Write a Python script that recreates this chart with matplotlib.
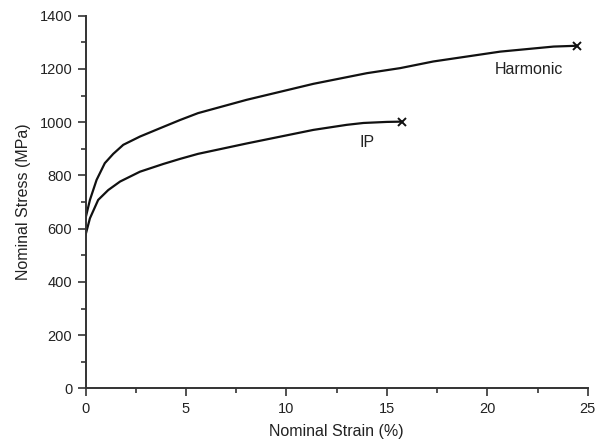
import numpy as np
import matplotlib.pyplot as plt
from matplotlib.ticker import MultipleLocator

plt.rcParams['font.family'] = ['Liberation Sans', 'DejaVu Sans']

# Harmonic curve (strain %, stress MPa)
harm_strain = [0.0, 0.22, 0.55, 0.96, 1.38, 1.88, 2.71, 3.7, 4.7, 5.6, 8.02,
               11.34, 14.0, 15.66, 17.31, 20.64, 23.3, 24.45]
harm_stress = [639, 708, 783, 846, 881, 915, 946, 977, 1008, 1034, 1084,
               1144, 1184, 1203, 1228, 1265, 1284, 1287]

# IP curve
ip_strain = [0.0, 0.22, 0.63, 1.13, 1.72, 2.71, 3.87, 4.7, 5.6, 8.02, 11.34,
             13.0, 13.83, 15.0, 15.73]
ip_stress = [576, 639, 708, 745, 777, 814, 843, 862, 881, 920, 971,
             990, 997, 1001, 1002]

fig = plt.figure(figsize=(5.98, 4.48), dpi=100)
ax = fig.add_axes([0.143, 0.133, 0.84, 0.832])

ax.plot(harm_strain, harm_stress, color='#111111', lw=1.6)
ax.plot(ip_strain, ip_stress, color='#111111', lw=1.6)
ax.plot(harm_strain[-1], harm_stress[-1], 'x', color='#111111', ms=6, mew=1.4)
ax.plot(ip_strain[-1], ip_stress[-1], 'x', color='#111111', ms=6, mew=1.4)

ax.text(22.06, 1196, 'Harmonic', ha='center', va='center', fontsize=11.5, color='#222222')
ax.text(14.0, 923, 'IP', ha='center', va='center', fontsize=11.5, color='#222222')

ax.set_xlim(0, 25)
ax.set_ylim(0, 1400)
ax.xaxis.set_major_locator(MultipleLocator(5))
ax.xaxis.set_minor_locator(MultipleLocator(2.5))
ax.yaxis.set_major_locator(MultipleLocator(200))
ax.yaxis.set_minor_locator(MultipleLocator(100))

for s in ['top', 'right']:
    ax.spines[s].set_visible(False)
for s in ['left', 'bottom']:
    ax.spines[s].set_linewidth(1.4)
    ax.spines[s].set_color('#333333')
ax.tick_params(which='major', direction='out', length=6, width=1.2, color='#333333',
               labelsize=10.5, labelcolor='#222222')
ax.tick_params(which='minor', direction='out', length=3.5, width=1.2, color='#333333')

ax.set_xlabel('Nominal Strain (%)', fontsize=11.5, color='#222222', labelpad=6)
ax.set_ylabel('Nominal Stress (MPa)', fontsize=11.5, color='#222222', labelpad=6)

fig.savefig('out.png', dpi=100)
